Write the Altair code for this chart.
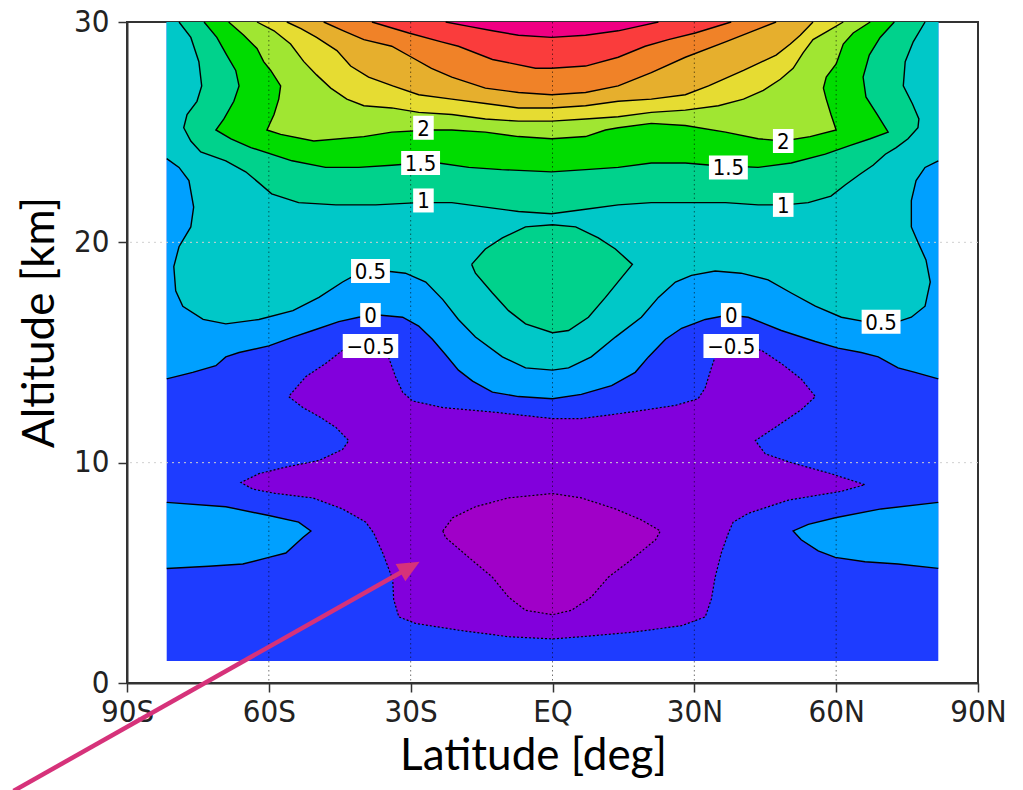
import math
import altair as alt
import pandas as pd

# Extent of the analysed field (deg latitude, km altitude)
LAT_W, LAT_E = -81.6, 81.6
ALT_BOT, ALT_TOP = 1.0, 30.0

# Contour lines as (latitude, altitude) vertices
C_45 = [(-22.6, 30.0), (-17.7, 29.8), (-12.7, 29.6), (-7.2, 29.4), (-0.2, 29.3), (7.0, 29.4),
        (13.9, 29.6), (18.2, 29.8), (22.4, 30.0)]
C_40 = [(-38.2, 30.0), (-30.4, 29.5), (-23.5, 29.1), (-19.9, 28.9), (-12.7, 28.3), (-3.6, 27.9),
        (-0.2, 27.9), (7.0, 28.0), (13.9, 28.4), (19.6, 28.9), (24.5, 29.2), (30.2, 29.5), (37.8, 30.0)]
C_35 = [(-48.4, 30.0), (-44.2, 29.6), (-39.9, 29.2), (-34.0, 28.9), (-29.8, 28.4), (-25.6, 27.9),
        (-21.3, 27.5), (-14.2, 27.0), (-7.2, 26.8), (-0.2, 26.7), (7.0, 26.8), (13.9, 27.1),
        (20.9, 27.7), (28.1, 28.4), (36.6, 29.1), (42.5, 29.6), (47.3, 30.0)]
C_30 = [(-56.2, 30.0), (-53.2, 29.7), (-49.9, 29.3), (-45.6, 28.7), (-42.7, 28.0), (-38.9, 27.5),
        (-33.8, 27.1), (-28.3, 26.7), (-21.3, 26.5), (-14.2, 26.3), (-7.2, 26.1), (-0.2, 26.1),
        (7.0, 26.2), (13.9, 26.4), (20.9, 26.5), (28.1, 26.7), (33.0, 27.1), (40.4, 27.8),
        (47.3, 28.5), (50.3, 29.0), (52.4, 29.4), (55.1, 30.0)]
C_25 = [(-62.5, 30.0), (-58.9, 29.6), (-55.4, 29.0), (-52.6, 28.2), (-49.9, 27.6), (-46.9, 27.0),
        (-43.5, 26.5), (-39.9, 26.2), (-34.0, 26.1), (-28.3, 25.9), (-21.3, 25.8), (-14.2, 25.6),
        (-7.2, 25.5), (-0.2, 25.5), (7.0, 25.6), (13.9, 25.7), (20.9, 25.9), (28.1, 26.0),
        (35.1, 26.2), (40.4, 26.5), (44.6, 26.9), (48.2, 27.4), (50.9, 27.9), (53.0, 28.6),
        (55.1, 29.2), (58.3, 29.6), (61.5, 30.0)]
C_20 = [(-68.5, 30.0), (-65.3, 29.4), (-62.5, 28.8), (-61.1, 28.2), (-59.6, 27.8), (-57.5, 27.1),
        (-57.9, 26.5), (-58.9, 25.8), (-60.4, 25.1), (-57.5, 24.9), (-50.5, 24.6), (-39.9, 24.8),
        (-34.0, 25.0), (-25.6, 25.1), (-21.3, 25.1), (-14.2, 25.0), (-7.2, 24.8), (-0.2, 24.7),
        (7.0, 24.8), (11.2, 25.1), (13.9, 25.2), (20.9, 25.4), (28.1, 25.3), (36.6, 25.0),
        (43.5, 24.7), (48.8, 24.6), (54.5, 24.8), (60.0, 25.1), (58.9, 25.8), (57.9, 26.5),
        (57.3, 27.0), (57.9, 27.5), (60.0, 28.1), (61.5, 29.0), (63.6, 29.5), (67.2, 30.0)]
C_15 = [(-73.7, 30.0), (-71.0, 29.3), (-68.9, 28.5), (-67.0, 27.8), (-66.3, 27.1), (-67.4, 26.4),
        (-69.5, 25.6), (-71.2, 25.1), (-68.0, 24.7), (-63.8, 24.3), (-55.1, 23.7), (-48.0, 23.4),
        (-41.0, 23.4), (-34.0, 23.5), (-27.9, 23.6), (-24.1, 23.6), (-17.7, 23.4), (-10.8, 23.3),
        (-0.2, 23.2), (7.0, 23.3), (13.9, 23.4), (20.9, 23.6), (28.1, 23.6), (33.6, 23.5),
        (43.5, 23.4), (50.5, 23.6), (57.7, 24.0), (63.0, 24.4), (67.2, 24.7), (71.0, 25.0),
        (68.7, 25.8), (66.3, 26.6), (65.7, 27.5), (67.0, 28.5), (69.3, 29.3), (72.3, 30.0)]
C_10 = [(-79.0, 30.0), (-76.5, 29.3), (-74.8, 28.2), (-74.2, 27.1), (-75.2, 26.4), (-77.3, 25.8),
        (-78.0, 25.2), (-76.5, 24.6), (-74.4, 24.1), (-69.1, 23.7), (-64.9, 23.2), (-62.1, 22.7),
        (-59.4, 22.2), (-53.7, 21.8), (-45.8, 21.7), (-37.4, 21.7), (-28.3, 21.8), (-21.3, 21.8),
        (-14.2, 21.6), (-7.2, 21.4), (-0.2, 21.3), (7.0, 21.5), (13.9, 21.7), (20.9, 21.8),
        (28.1, 21.8), (36.6, 21.8), (43.5, 21.7), (49.2, 21.7), (54.1, 21.8), (58.9, 22.1),
        (61.9, 22.6), (65.1, 23.1), (67.8, 23.5), (70.4, 24.0), (72.7, 24.3), (75.2, 24.7),
        (77.3, 25.2), (77.5, 25.6), (76.1, 26.3), (74.2, 27.1), (74.6, 28.2), (76.3, 29.1),
        (78.8, 30.0)]
BUBBLE = [(-17.1, 19.0), (-14.2, 19.7), (-10.6, 20.2), (-5.7, 20.7), (0.0, 20.8), (4.9, 20.7),
          (9.7, 20.2), (13.3, 19.7), (16.9, 19.0), (14.6, 18.4), (11.2, 17.5), (7.6, 16.6),
          (3.4, 16.0), (0.0, 15.9), (-5.7, 16.3), (-9.3, 16.9), (-12.7, 17.7), (-16.3, 18.6)]
C_05 = [(-81.6, 23.8), (-79.0, 23.4), (-76.9, 22.8), (-75.9, 21.6), (-76.5, 20.7), (-79.0, 19.8),
        (-80.1, 18.9), (-79.7, 17.8), (-78.2, 17.1), (-73.9, 16.5), (-69.1, 16.3), (-62.1, 16.5),
        (-54.9, 16.9), (-49.4, 17.5), (-44.4, 18.2), (-41.0, 18.6), (-35.3, 18.7), (-31.1, 18.6),
        (-26.8, 18.2), (-23.2, 17.4), (-19.9, 16.5), (-16.3, 15.7), (-10.6, 14.8), (-5.7, 14.3),
        (0.0, 14.2), (3.4, 14.3), (8.2, 14.8), (13.3, 15.7), (18.8, 16.6), (22.4, 17.5),
        (26.0, 18.2), (29.4, 18.5), (34.4, 18.7), (39.9, 18.6), (45.6, 18.3), (50.5, 17.7),
        (55.6, 17.1), (61.1, 16.6), (66.1, 16.4), (73.1, 16.4), (75.9, 16.6), (78.8, 17.1),
        (79.9, 18.2), (79.0, 19.2), (77.3, 20.0), (75.9, 20.7), (75.9, 21.9), (76.9, 22.8),
        (78.8, 23.4), (81.6, 23.7)]
C_00 = [(-81.6, 13.8), (-76.1, 14.1), (-71.2, 14.4), (-69.1, 14.8), (-66.3, 15.0), (-60.0, 15.3),
        (-54.9, 15.7), (-50.7, 16.0), (-45.2, 16.4), (-41.0, 16.6), (-36.8, 16.7), (-31.7, 16.6),
        (-28.3, 16.2), (-25.4, 15.6), (-22.6, 14.9), (-19.9, 14.2), (-16.9, 13.7), (-12.7, 13.2),
        (-7.2, 13.0), (0.0, 12.9), (6.1, 13.1), (12.5, 13.5), (17.5, 14.1), (20.3, 14.8),
        (23.9, 15.6), (27.3, 16.1), (32.3, 16.5), (37.2, 16.7), (41.4, 16.6), (48.4, 16.0),
        (55.6, 15.5), (60.4, 15.2), (65.3, 15.0), (68.9, 14.8), (73.1, 14.3), (76.7, 14.1),
        (81.6, 13.8)]
LOBE_S = [(-81.6, 8.2), (-69.1, 8.0), (-60.0, 7.6), (-53.7, 7.3), (-51.1, 6.9), (-52.8, 6.6),
          (-56.4, 5.9), (-60.0, 5.7), (-65.5, 5.4), (-72.7, 5.3), (-81.6, 5.2)]
LOBE_N = [(81.6, 8.2), (69.5, 7.9), (59.8, 7.5), (54.1, 7.2), (50.9, 6.9), (52.6, 6.5),
          (56.2, 6.0), (59.8, 5.7), (66.1, 5.5), (73.1, 5.4), (81.6, 5.2)]
C_M05 = [(-38.5, 15.3), (-44.4, 15.1), (-48.0, 14.5), (-52.2, 13.9), (-55.8, 13.0), (-52.8, 12.5),
         (-49.4, 12.1), (-45.8, 11.6), (-43.1, 11.0), (-44.4, 10.6), (-49.4, 10.1), (-56.4, 9.8),
         (-62.1, 9.5), (-65.9, 9.1), (-63.4, 8.8), (-58.5, 8.6), (-50.7, 8.4), (-44.4, 7.9),
         (-39.5, 7.3), (-37.8, 6.8), (-35.9, 5.9), (-33.8, 4.7), (-33.6, 3.8), (-32.5, 3.0),
         (-28.9, 2.7), (-19.9, 2.4), (-9.3, 2.1), (0.0, 2.0), (6.1, 2.1), (16.7, 2.3), (27.3, 2.6),
         (32.3, 3.0), (33.6, 3.8), (34.4, 4.8), (35.7, 5.9), (37.2, 6.8), (38.2, 7.3), (41.4, 7.7),
         (49.9, 8.3), (61.1, 8.7), (66.1, 9.0), (58.9, 9.5), (50.5, 10.0), (45.0, 10.4),
         (42.9, 11.0), (47.1, 11.6), (52.6, 12.4), (55.6, 13.0), (52.6, 13.8), (48.4, 14.5),
         (44.2, 15.1), (37.8, 15.3), (34.4, 14.8), (33.6, 14.3), (32.3, 13.4), (30.8, 12.9),
         (26.0, 12.6), (16.7, 12.3), (6.1, 12.0), (0.0, 12.0), (-12.7, 12.3), (-23.2, 12.5),
         (-29.6, 12.8), (-31.7, 13.2), (-33.2, 13.9), (-34.7, 14.8)]
C_M10 = [(-23.2, 6.9), (-21.1, 7.5), (-16.3, 8.0), (-9.3, 8.4), (0.0, 8.6), (6.1, 8.4), (13.3, 7.9),
         (18.8, 7.4), (22.8, 6.9), (21.8, 6.5), (16.7, 5.6), (11.8, 4.8), (8.2, 3.9), (4.0, 3.3),
         (0.0, 3.1), (-5.7, 3.3), (-9.3, 3.9), (-12.7, 4.8), (-17.7, 5.7), (-22.6, 6.6)]

# Shading for the intervals <-1, -1..-0.5, -0.5..0, 0..0.5, ..., 4..4.5, >4.5
BAND_COLORS = ["#a000c8", "#8200dc", "#1e3cff", "#00a0ff", "#00c8c8", "#00d28c", "#00dc00",
               "#a0e632", "#e6dc32", "#e6af2d", "#f08228", "#fa3c3c", "#f00082"]

# Contour labels
LABEL_TEXT = ["2", "1.5", "1", "0.5", "0", "\u22120.5", "2", "1.5", "1", "0.5", "0", "\u22120.5"]
LABEL_LAT = [-27.3, -27.9, -27.3, -38.5, -38.5, -38.5, 48.8, 37.2, 48.8, 69.5, 37.8, 37.8]
LABEL_ALT = [25.2, 23.6, 21.9, 18.7, 16.7, 15.3, 24.6, 23.4, 21.7, 16.4, 16.7, 15.3]

XTICKS = [-90, -60, -30, 0, 30, 60, 90]
YTICKS = [0, 10, 20, 30]
GRID_LAT = [-60, -30, 0, 30, 60]
GRID_ALT = [10, 20]

# Pointer arrow, tail then head
ARROW_LAT = [-114.0, -28.1]
ARROW_ALT = [-4.9, 5.5]
PINK = "#d6327a"

W, H = 851, 661
TICK_FONT = "DejaVu Sans Condensed, Liberation Sans Narrow, DejaVu Sans, sans-serif"
TITLE_FONT = "Lato, Open Sans, sans-serif"

xs = alt.Scale(domain=[-90, 90], nice=False, zero=False)
ys = alt.Scale(domain=[0, 30], nice=False, zero=False)

x_axis = alt.Axis(
    values=XTICKS,
    labelExpr="datum.value == 0 ? 'EQ' : abs(datum.value) + (datum.value < 0 ? 'S' : 'N')",
    grid=False, tickSize=9, tickWidth=1.5, tickColor="#333", domainColor="#333", domainWidth=2,
    labelFont=TICK_FONT, labelFontSize=31, labelColor="#222", labelPadding=5,
    labelFlush=False, labelOverlap=False,
    title="Latitude [deg]", titleFont=TITLE_FONT, titleFontSize=44, titleFontWeight="normal",
    titleColor="black", titleX=406, titleY=73, titleAlign="center", titleBaseline="middle",
)
y_axis = alt.Axis(
    values=YTICKS, format="d",
    grid=False, tickSize=9, tickWidth=1.5, tickColor="#333", domainColor="#333", domainWidth=2,
    labelFont=TICK_FONT, labelFontSize=31, labelColor="#222", labelPadding=9,
    labelFlush=False, labelOverlap=False,
    title="Altitude [km]", titleFont=TITLE_FONT, titleFontSize=44, titleFontWeight="normal",
    titleColor="black", titleX=-87, titleY=300, titleAngle=270, titleAlign="center",
    titleBaseline="middle",
)

# every layer carries the same axis definition so that they merge into one
X = lambda f: alt.X(f, type="quantitative", scale=xs, axis=x_axis)
Y = lambda f: alt.Y(f, type="quantitative", scale=ys, axis=y_axis)


def path_frame(lines, closed=False):
    rows = []
    for pid, pts in enumerate(lines):
        seq = list(pts) + ([pts[0]] if closed else [])
        for k, (la, al) in enumerate(seq):
            rows.append({"id": pid, "seq": k, "lat": la, "alt": al})
    return pd.DataFrame(rows)


def fill_layer(color, polys):
    return alt.Chart(path_frame(polys)).mark_line(
        fill=color, strokeOpacity=0, interpolate="linear"
    ).encode(x=X("lat"), y=Y("alt"), detail="id:N", order="seq:Q")


top_corners = [(LAT_E, ALT_TOP), (LAT_W, ALT_TOP)]

# background band (-0.5..0) over the whole field
field = alt.Chart(pd.DataFrame({"lat": [LAT_W], "lat1": [LAT_E], "alt": [ALT_BOT], "alt1": [ALT_TOP]})
                  ).mark_rect(color=BAND_COLORS[2]).encode(
    x=X("lat"), x2="lat1:Q", y=Y("alt"), y2="alt1:Q")

layers = [field]
# painted from the lowest enclosing level upward, nested shapes last
layers.append(fill_layer(BAND_COLORS[3], [C_00 + top_corners]))
layers.append(fill_layer(BAND_COLORS[4], [C_05 + top_corners]))
layers.append(fill_layer(BAND_COLORS[5], [C_10, BUBBLE]))
for color, line in zip(BAND_COLORS[6:], [C_15, C_20, C_25, C_30, C_35, C_40, C_45]):
    layers.append(fill_layer(color, [line]))
layers.append(fill_layer(BAND_COLORS[3], [LOBE_S, LOBE_N]))
layers.append(fill_layer(BAND_COLORS[1], [C_M05]))
layers.append(fill_layer(BAND_COLORS[0], [C_M10]))

# grid lines
layers.append(alt.Chart(pd.DataFrame({"lat": GRID_LAT})).mark_rule(
    color="black", opacity=0.55, strokeWidth=1, strokeDash=[1.5, 3]).encode(x=X("lat")))
layers.append(alt.Chart(pd.DataFrame({"alt": GRID_ALT})).mark_rule(
    color="#d0d0d0", strokeWidth=1, strokeDash=[2, 4]).encode(y=Y("alt")))

# contour lines: solid for zero and positive levels, dotted for negative levels
open_lines = [C_00, C_05, C_10, C_15, C_20, C_25, C_30, C_35, C_40, C_45, LOBE_S, LOBE_N]
solid = pd.concat([path_frame(open_lines), path_frame([BUBBLE], closed=True).assign(id=99)])
layers.append(alt.Chart(solid).mark_line(color="black", strokeWidth=1.4, interpolate="linear").encode(
    x=X("lat"), y=Y("alt"), detail="id:N", order="seq:Q"))
layers.append(alt.Chart(path_frame([C_M05, C_M10], closed=True)).mark_line(
    color="black", strokeWidth=1.2, strokeDash=[2, 2], interpolate="linear").encode(
    x=X("lat"), y=Y("alt"), detail="id:N", order="seq:Q"))

# contour labels on white boxes
CHAR_W = {".": 5.7, "\u2212": 16.6}
BOX_UNIT = 30.0


def box_shape(text):
    w = sum(CHAR_W.get(ch, 12.6) for ch in text) + 8
    hw, hh = w / 2 / BOX_UNIT, 12 / BOX_UNIT
    return f"M{-hw:.3f},{-hh:.3f}L{hw:.3f},{-hh:.3f}L{hw:.3f},{hh:.3f}L{-hw:.3f},{hh:.3f}Z"


labels = pd.DataFrame({"lat": LABEL_LAT, "alt": LABEL_ALT, "text": LABEL_TEXT})
labels["box"] = labels["text"].map(box_shape)
layers.append(alt.Chart(labels).mark_point(
    filled=True, color="white", opacity=1, size=(2 * BOX_UNIT) ** 2, strokeWidth=0).encode(
    x=X("lat"), y=Y("alt"), shape=alt.Shape("box:N", scale=None)))
layers.append(alt.Chart(labels).mark_text(
    font=TICK_FONT, fontSize=22, color="black", align="center", baseline="middle", dy=1).encode(
    x=X("lat"), y=Y("alt"), text="text:N"))

# pointer arrow
px_lat, px_alt = W / 180.0, H / 30.0
dx = (ARROW_LAT[1] - ARROW_LAT[0]) * px_lat
dy = (ARROW_ALT[1] - ARROW_ALT[0]) * px_alt
length = math.hypot(dx, dy)
head_angle = (-math.degrees(math.atan2(dy, dx))) % 360
shaft_end_lat = ARROW_LAT[1] - 14 * dx / length / px_lat
shaft_end_alt = ARROW_ALT[1] - 14 * dy / length / px_alt
shaft = pd.DataFrame({"lat": [ARROW_LAT[0]], "alt": [ARROW_ALT[0]],
                      "lat1": [shaft_end_lat], "alt1": [shaft_end_alt]})
layers.append(alt.Chart(shaft).mark_rule(color=PINK, strokeWidth=4.5).encode(
    x=X("lat"), y=Y("alt"), x2="lat1:Q", y2="alt1:Q"))
head = pd.DataFrame({"lat": [ARROW_LAT[1]], "alt": [ARROW_ALT[1]]})
layers.append(alt.Chart(head).mark_point(
    shape="M0,0L-1,-0.45L-1,0.45Z", size=44 ** 2, filled=True, color=PINK, opacity=1,
    strokeWidth=0, angle=head_angle).encode(x=X("lat"), y=Y("alt")))

chart = alt.layer(*layers).properties(
    width=W, height=H,
    autosize=alt.AutoSizeParams(type="none"),
    padding={"left": 127, "top": 22, "right": 45, "bottom": 107},
    background="white",
).configure_view(stroke="#333", strokeWidth=2)

chart.save("out.html", embed_options={"renderer": "svg", "actions": False})
